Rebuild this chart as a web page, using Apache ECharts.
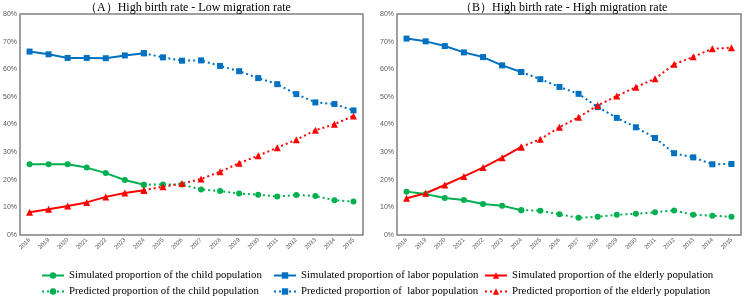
<!DOCTYPE html>
<html>
<head>
<meta charset="utf-8">
<style>
  html, body { margin: 0; padding: 0; background: #fff; }
  #chart { width: 748px; height: 300px; }
</style>
<script src="https://cdn.jsdelivr.net/npm/echarts@6/dist/echarts.min.js"></script>
</head>
<body>
<div id="chart"></div>
<script>
var years = ["2018", "2019", "2020", "2021", "2022", "2023", "2024", "2025", "2026",
  "2027", "2028", "2029", "2030", "2031", "2032", "2033", "2034", "2035"];
var yTicks = [0, 10, 20, 30, 40, 50, 60, 70, 80];
var titleA = "（A）High birth rate - Low migration rate";
var titleB = "（B）High birth rate - High migration rate";

// panel A (percent)
var childA = [25.6, 25.6, 25.6, 24.4, 22.4, 19.9, 18.2, 18.3, 18.3, 16.5, 15.9, 15.0, 14.6, 13.9, 14.5, 14.1, 12.6, 12.1];
var laborA = [66.4, 65.4, 64.1, 64.1, 64.0, 65.0, 65.8, 64.3, 63.1, 63.2, 61.2, 59.3, 56.8, 54.6, 51.0, 48.0, 47.4, 45.1];
var elderA = [8.2, 9.3, 10.5, 11.8, 13.8, 15.2, 16.2, 17.5, 18.6, 20.3, 22.9, 26.0, 28.7, 31.6, 34.5, 37.9, 40.1, 43.1];
// panel B (percent)
var childB = [15.7, 14.8, 13.4, 12.7, 11.2, 10.6, 9.0, 8.8, 7.5, 6.2, 6.6, 7.3, 7.7, 8.2, 8.9, 7.3, 7.0, 6.6];
var laborB = [71.1, 70.1, 68.4, 66.1, 64.4, 61.4, 59.0, 56.4, 53.6, 51.1, 46.3, 42.4, 39.0, 35.1, 29.6, 28.1, 25.6, 25.7];
var elderB = [13.3, 15.1, 18.1, 21.2, 24.4, 28.0, 31.9, 34.7, 39.0, 42.6, 46.9, 50.3, 53.5, 56.6, 61.8, 64.5, 67.4, 67.8];

var lastSimYear = "2024";

var names = {
  childSim: "Simulated proportion of the child population",
  childPre: "Predicted proportion of the child population",
  laborSim: "Simulated proportion of labor population",
  laborPre: "Predicted proportion of  labor population",
  elderSim: "Simulated proportion of the elderly population",
  elderPre: "Predicted proportion of the elderly population"
};

var cut = years.indexOf(lastSimYear);
function simPart(arr) { return arr.map(function (v, i) { return i <= cut ? v : "-"; }); }
function prePart(arr) { return arr.map(function (v, i) { return i >= cut ? v : "-"; }); }

var styles = {
  child: { color: "#00b050", symbol: "circle", size: 6 },
  labor: { color: "#0070c0", symbol: "rect", size: 6 },
  elder: { color: "#ff0000", symbol: "triangle", size: 7 }
};

function makeSeries(name, data, st, dotted, idx) {
  return {
    name: name,
    type: "line",
    xAxisIndex: idx,
    yAxisIndex: idx,
    data: data,
    symbol: st.symbol,
    symbolSize: st.size,
    showSymbol: true,
    itemStyle: { color: st.color },
    lineStyle: { color: st.color, width: 2, type: dotted ? [2, 3] : "solid" },
    animation: false
  };
}

var series = [];
[[childA, laborA, elderA], [childB, laborB, elderB]].forEach(function (set, idx) {
  series.push(makeSeries(names.childSim, simPart(set[0]), styles.child, false, idx));
  series.push(makeSeries(names.laborSim, simPart(set[1]), styles.labor, false, idx));
  series.push(makeSeries(names.elderSim, simPart(set[2]), styles.elder, false, idx));
  series.push(makeSeries(names.childPre, prePart(set[0]), styles.child, true, idx));
  series.push(makeSeries(names.laborPre, prePart(set[1]), styles.labor, true, idx));
  series.push(makeSeries(names.elderPre, prePart(set[2]), styles.elder, true, idx));
});

function xAxis(idx) {
  return {
    type: "category",
    gridIndex: idx,
    data: years,
    boundaryGap: true,
    axisLine: { show: false },
    axisTick: { show: false },
    axisLabel: { rotate: 45, fontSize: 6, color: "#595959", fontFamily: "Liberation Sans", margin: 4, interval: 0 }
  };
}
function yAxis(idx) {
  return {
    type: "value",
    gridIndex: idx,
    min: yTicks[0],
    max: yTicks[yTicks.length - 1],
    interval: 10,
    splitLine: { show: false },
    axisLine: { show: false },
    axisTick: { show: false },
    axisLabel: { formatter: "{value}%", fontSize: 7, color: "#595959", fontFamily: "Liberation Sans", margin: 3 }
  };
}

var legendText = { fontFamily: "Liberation Serif", fontSize: 10.8, color: "#000" };
function legendCol(left, items) {
  return {
    orient: "vertical",
    left: left,
    top: 270,
    height: 30,
    padding: 0,
    itemGap: 5,
    itemWidth: 22,
    itemHeight: 8,
    textStyle: legendText,
    data: items
  };
}

var titleText = { fontFamily: "Liberation Serif", fontSize: 12, fontWeight: "normal", color: "#000" };

var option = {
  animation: false,
  title: [
    { text: titleA, left: 80, top: -3, textStyle: titleText },
    { text: titleB, left: 455, top: -3, textStyle: titleText }
  ],
  grid: [
    { left: 17, right: 385, top: 14, bottom: 65, show: true, borderColor: "#808080", borderWidth: 1.5 },
    { left: 397, right: 7, top: 14, bottom: 65, show: true, borderColor: "#808080", borderWidth: 1.5 }
  ],
  xAxis: [xAxis(0), xAxis(1)],
  yAxis: [yAxis(0), yAxis(1)],
  legend: [
    legendCol(41, [names.childSim, names.childPre]),
    legendCol(273, [names.laborSim, names.laborPre]),
    legendCol(484, [names.elderSim, names.elderPre])
  ],
  series: series
};

var myChart = echarts.init(document.getElementById("chart"));
myChart.setOption(option);
window.addEventListener("resize", function () {
  myChart.resize();
});
</script>
</body>
</html>
